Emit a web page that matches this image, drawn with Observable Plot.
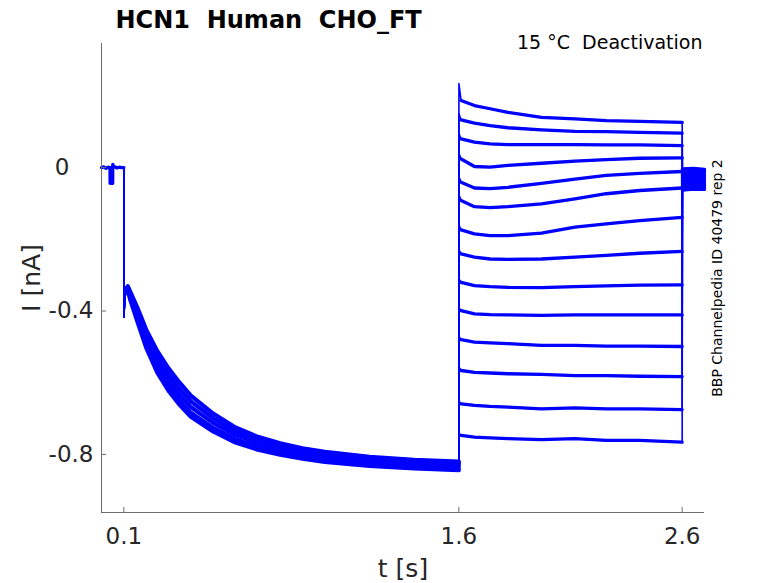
<!DOCTYPE html>
<html><head><meta charset="utf-8">
<script src="https://cdn.jsdelivr.net/npm/d3@7"></script>
<script src="https://cdn.jsdelivr.net/npm/@observablehq/plot@0.6"></script>
<style>
html,body{margin:0;padding:0;background:#fff;}
svg text{white-space:pre;}
</style></head><body><div id="chart"></div>
<script>
const title = "HCN1  Human  CHO_FT";
const subtitle = "15 °C  Deactivation";
const sideNote = "BBP Channelpedia ID 40479 rep 2";
const xLabel = "t [s]";
const yLabel = "I [nA]";
const xTicks = [0.1, 1.6, 2.6];
const yTicks = [0, -0.4, -0.8];
const xDomain = [0, 2.7];
const yDomain = [-0.962, 0.346];

// holding period before the activating step
const holdT = [0, 0.01, 0.02, 0.03, 0.038, 0.0385, 0.05, 0.0505, 0.053, 0.06, 0.07, 0.08, 0.09, 0.1];
const holdI = [0, 0.002, -0.002, 0.001, 0, -0.044, -0.044, 0.009, 0, 0.002, -0.001, 0.001, 0, 0];
// onset transient of activating step
const stepT = [0.1, 0.1004, 0.104];
const stepI = [0, -0.417, -0.36];
// activation (hyperpolarising step), spread of the overlapping sweeps
const actT = [0.11, 0.118, 0.13, 0.16, 0.2, 0.25, 0.3, 0.35, 0.4, 0.5, 0.6, 0.7, 0.8, 0.9, 1.0, 1.2, 1.4, 1.6];
const actA = [-0.338, -0.331, -0.348, -0.39, -0.452, -0.512, -0.56, -0.6, -0.636, -0.686, -0.725, -0.751, -0.769, -0.783, -0.793, -0.807, -0.815, -0.82];
const actB = [-0.342, -0.334, -0.354, -0.399, -0.464, -0.53, -0.578, -0.617, -0.652, -0.699, -0.735, -0.759, -0.776, -0.789, -0.798, -0.811, -0.819, -0.825];
const actC = [-0.345, -0.337, -0.36, -0.409, -0.478, -0.545, -0.594, -0.634, -0.668, -0.712, -0.746, -0.768, -0.784, -0.796, -0.805, -0.818, -0.825, -0.831];
const actD = [-0.348, -0.34, -0.366, -0.419, -0.491, -0.56, -0.61, -0.65, -0.684, -0.726, -0.758, -0.779, -0.794, -0.806, -0.814, -0.826, -0.833, -0.838];
const actE = [-0.35, -0.343, -0.371, -0.428, -0.502, -0.572, -0.622, -0.662, -0.695, -0.736, -0.767, -0.787, -0.801, -0.812, -0.821, -0.832, -0.839, -0.844];
const actCurves = [actA, actB, actC, actD, actE];

// deactivation steps (14 sweeps)
const deacT = [1.61, 1.67, 1.74, 1.82, 1.97, 2.12, 2.26, 2.41, 2.6];
const deacPeak = [0.234, 0.15, 0.095, 0.04, -0.025, -0.075, -0.16, -0.228, -0.31, -0.39, -0.47, -0.556, -0.65, -0.74];
const deac1  = [0.187, 0.173, 0.164, 0.154, 0.140, 0.136, 0.131, 0.129, 0.126];
const deac2  = [0.133, 0.124, 0.117, 0.111, 0.105, 0.101, 0.100, 0.098, 0.096];
const deac3  = [0.080, 0.071, 0.066, 0.064, 0.064, 0.064, 0.063, 0.063, 0.061];
const deac4  = [0.024, 0.003, 0.001, 0.006, 0.012, 0.018, 0.022, 0.026, 0.027];
const deac5  = [-0.041, -0.057, -0.059, -0.055, -0.044, -0.032, -0.022, -0.016, -0.011];
const deac6  = [-0.092, -0.109, -0.112, -0.109, -0.101, -0.087, -0.073, -0.064, -0.057];
const deac7  = [-0.174, -0.185, -0.190, -0.190, -0.183, -0.166, -0.157, -0.148, -0.139];
const deac8  = [-0.241, -0.250, -0.255, -0.256, -0.255, -0.250, -0.245, -0.239, -0.234];
const deac9  = [-0.320, -0.329, -0.332, -0.334, -0.335, -0.332, -0.330, -0.328, -0.327];
const deac10 = [-0.399, -0.408, -0.410, -0.411, -0.412, -0.411, -0.411, -0.411, -0.411];
const deac11 = [-0.480, -0.487, -0.489, -0.491, -0.496, -0.496, -0.498, -0.498, -0.499];
const deac12 = [-0.566, -0.571, -0.573, -0.575, -0.577, -0.580, -0.580, -0.582, -0.583];
const deac13 = [-0.659, -0.663, -0.666, -0.668, -0.673, -0.670, -0.673, -0.673, -0.675];
const deac14 = [-0.747, -0.752, -0.754, -0.756, -0.759, -0.756, -0.761, -0.761, -0.766];
const deacI = [deac1, deac2, deac3, deac4, deac5, deac6, deac7, deac8, deac9, deac10, deac11, deac12, deac13, deac14];

// return to holding after the step
const tailT = [2.601, 2.65, 2.7];
const tailI = [
  [-0.004, -0.002, -0.005], [-0.009, -0.006, -0.008], [-0.013, -0.010, -0.012], [-0.018, -0.015, -0.016],
  [-0.022, -0.020, -0.021], [-0.027, -0.024, -0.025], [-0.031, -0.029, -0.030], [-0.036, -0.033, -0.034],
  [-0.040, -0.038, -0.039], [-0.045, -0.042, -0.043], [-0.049, -0.047, -0.048], [-0.054, -0.051, -0.052],
  [-0.058, -0.056, -0.057], [-0.063, -0.060, -0.061]
];

const blue = "#0000ff";
const axisColor = "#6e6e6e";
const labelColor = "#262626";

// build tables
const full = [];
const thick = [];
const band = [];
const pushSeries = (arr, key, ts, vs) => ts.forEach((t, i) => arr.push({key, t, I: vs[i]}));
deacI.forEach((vals, s) => {
  const key = "s" + s;
  pushSeries(full, key, holdT, holdI);
  pushSeries(full, key, stepT, stepI);
  pushSeries(full, key, actT, actCurves[s % actCurves.length]);
  full.push({key, t: 1.6004, I: deacPeak[s]});
  pushSeries(full, key, deacT, vals);
  pushSeries(full, key, tailT, tailI[s]);
  pushSeries(thick, "d" + s, deacT, vals);
  pushSeries(thick, "t" + s, tailT, tailI[s]);
});
pushSeries(thick, "hold", holdT, holdI);
actCurves.forEach((c, k) => pushSeries(band, "a" + k, actT, c));

const chart = Plot.plot({
  width: 778, height: 583,
  marginLeft: 101, marginRight: 74, marginTop: 43, marginBottom: 71,
  x: {domain: xDomain},
  y: {domain: yDomain},
  style: {fontFamily: "DejaVu Sans", background: "#fff", overflow: "visible"},
  marks: [
    Plot.line(full, {x: "t", y: "I", z: "key", stroke: blue, strokeWidth: 1.6, strokeLinejoin: "round"}),
    Plot.line(thick, {x: "t", y: "I", z: "key", stroke: blue, strokeWidth: 3.3, strokeLinejoin: "round", strokeLinecap: "round"}),
    Plot.line(band, {x: "t", y: "I", z: "key", stroke: blue, strokeWidth: 4.2, strokeLinejoin: "round", strokeLinecap: "round"}),
    Plot.ruleX([xDomain[0]], {stroke: axisColor, strokeWidth: 1}),
    Plot.ruleY([yDomain[0]], {stroke: axisColor, strokeWidth: 1}),
    Plot.axisX(xTicks, {tickSize: -5, tickFormat: () => "", stroke: axisColor, label: null}),
    Plot.axisY(yTicks, {tickSize: -5, tickFormat: () => "", stroke: axisColor, label: null}),
    Plot.axisX(xTicks, {tickSize: 0, tickPadding: 15, fontSize: 23, fill: labelColor, label: null, tickFormat: d => String(d)}),
    Plot.axisY(yTicks.filter(d => d !== 0), {tickSize: 0, tickPadding: 8, fontSize: 23, fill: labelColor, label: null, tickFormat: d => d.toFixed(1)}),
    Plot.axisY(yTicks.filter(d => d === 0), {tickSize: 0, tickPadding: 32, fontSize: 23, fill: labelColor, label: null, tickFormat: d => String(d)}),
    Plot.text([title], {frameAnchor: "top-left", textAnchor: "start", lineAnchor: "bottom", dx: 14, dy: -16, fontSize: 24, fontWeight: "bold", fill: "#000"}),
    Plot.text([subtitle], {frameAnchor: "top-right", textAnchor: "end", lineAnchor: "bottom", dx: -2, dy: 5, fontSize: 19, fill: "#000"}),
    Plot.text([sideNote], {frameAnchor: "right", textAnchor: "middle", lineAnchor: "bottom", rotate: -90, dx: 17, fontSize: 14, fill: "#000"}),
    Plot.text([yLabel], {frameAnchor: "left", textAnchor: "middle", lineAnchor: "bottom", rotate: -90, dx: -62, fontSize: 25, fill: labelColor}),
    Plot.text([xLabel], {frameAnchor: "bottom", textAnchor: "middle", lineAnchor: "bottom", dy: 64, fontSize: 25, fill: labelColor})
  ]
});
document.getElementById("chart").appendChild(chart);
</script></body></html>
